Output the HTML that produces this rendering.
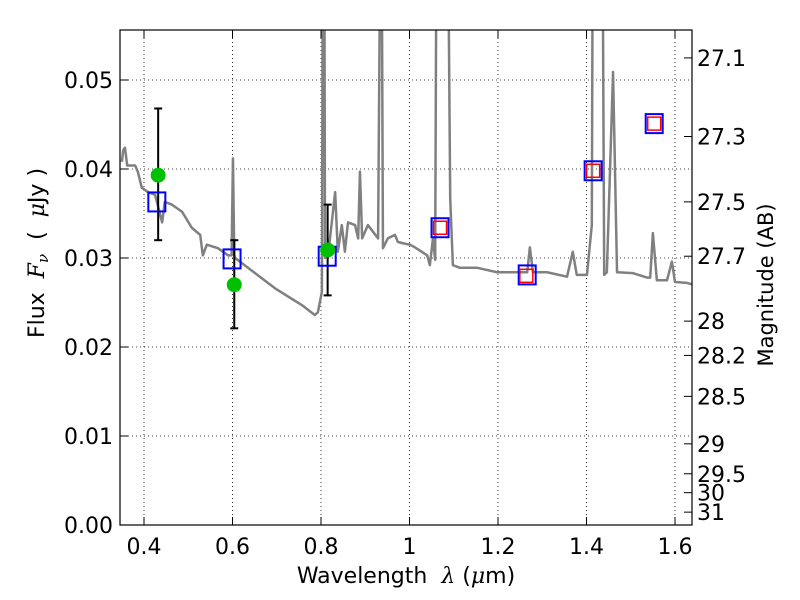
<!DOCTYPE html>
<html><head><meta charset="utf-8"><style>
body{margin:0;background:#fff;}
svg{display:block;font-family:"DejaVu Sans","Liberation Sans",sans-serif;}
</style></head><body>
<svg id="chart" width="800" height="600" xmlns="http://www.w3.org/2000/svg">
<rect width="800" height="600" fill="#fff"/>
<defs><clipPath id="clip"><rect x="120" y="30" width="572" height="495"/></clipPath></defs>
<g id="grid"></g>
<g id="spec" clip-path="url(#clip)"></g>
<g id="marks" clip-path="url(#clip)"></g>
<rect x="120" y="30" width="572" height="495" fill="none" stroke="#000" stroke-width="1.2"/>
<g id="axes"></g>
<text x="406" y="583" font-size="22" text-anchor="middle" style="white-space:pre">Wavelength  <tspan font-family="DejaVu Serif" font-style="italic">λ</tspan> (<tspan font-family="DejaVu Serif" font-style="italic">μ</tspan>m)</text>
<text transform="translate(44,253) rotate(-90)" font-size="22" text-anchor="middle" style="white-space:pre">Flux  <tspan font-family="DejaVu Serif" font-style="italic">F</tspan><tspan font-family="DejaVu Serif" font-style="italic" font-size="15" dy="4">ν</tspan><tspan dy="-4">  (  </tspan><tspan font-family="DejaVu Serif" font-style="italic">μ</tspan>Jy )</text>
<text transform="translate(773,285) rotate(-90)" font-size="21" text-anchor="middle">Magnitude (AB)</text>
</svg>
<script>
const specLam=[0.350,0.353,0.357,0.362,0.380,0.386,0.395,0.409,0.425,0.441,0.447,0.463,0.486,0.508,0.527,0.533,0.542,0.567,0.590,0.598,0.601,0.604,0.606,0.635,0.696,0.757,0.786,0.793,0.802,0.805,0.807,0.809,0.816,0.832,0.838,0.847,0.854,0.861,0.877,0.884,0.888,0.893,0.906,0.929,0.936,0.940,0.951,0.967,0.974,0.990,1.001,1.012,1.040,1.046,1.053,1.058,1.062,1.085,1.092,1.098,1.114,1.153,1.198,1.227,1.266,1.272,1.279,1.311,1.356,1.369,1.378,1.401,1.412,1.415,1.435,1.440,1.446,1.460,1.469,1.505,1.537,1.544,1.550,1.559,1.582,1.593,1.600,1.627,1.641];
const specFlux=[0.0408,0.0421,0.0424,0.0404,0.0404,0.0397,0.0379,0.0374,0.0371,0.0340,0.0363,0.0360,0.0352,0.0334,0.0326,0.0303,0.0315,0.0311,0.0303,0.0303,0.0412,0.0303,0.0300,0.0289,0.0266,0.0247,0.0236,0.0239,0.0262,0.08,0.08,0.0300,0.0303,0.0374,0.0307,0.0337,0.0307,0.0340,0.0337,0.0322,0.0397,0.0322,0.0337,0.0322,0.08,0.0311,0.0322,0.0326,0.0318,0.0316,0.0315,0.0312,0.0303,0.0292,0.0322,0.0298,0.08,0.08,0.0367,0.0292,0.0289,0.0289,0.0284,0.0284,0.0284,0.0312,0.0284,0.0284,0.0279,0.0307,0.0281,0.0281,0.0337,0.08,0.08,0.0281,0.0284,0.0509,0.0284,0.0283,0.0278,0.0278,0.0328,0.0275,0.0275,0.0296,0.0273,0.0272,0.0270];
const modelLam=[0.429,0.599,0.814,1.069,1.266,1.415,1.553];
const modelFlux=[0.0363,0.0299,0.0302,0.0334,0.0281,0.0398,0.0451];
const redLam=[1.069,1.264,1.415,1.553];
const redFlux=[0.0334,0.0280,0.0398,0.0451];
const obsLam=[0.432,0.604,0.815];
const obsFlux=[0.0393,0.0270,0.0309];
const obsLo=[0.0320,0.0221,0.0258];
const obsHi=[0.0468,0.0320,0.0360];
const xTicks=[0.4,0.6,0.8,1.0,1.2,1.4,1.6];
const xLabels=["0.4","0.6","0.8","1","1.2","1.4","1.6"];
const yTicks=[0,0.01,0.02,0.03,0.04,0.05];
const yLabels=["0.00","0.01","0.02","0.03","0.04","0.05"];
const magTicks=[27.1,27.3,27.5,27.7,28,28.2,28.5,29,29.5,30,31];

const NS="http://www.w3.org/2000/svg";
const X=v=>144+(v-0.4)*442.5;
const Y=v=>525-v*8900;
function mk(tag,attrs,parent){const e=document.createElementNS(NS,tag);for(const k in attrs)e.setAttribute(k,attrs[k]);parent.appendChild(e);return e;}
const grid=document.getElementById('grid'),axes=document.getElementById('axes'),spec=document.getElementById('spec'),marks=document.getElementById('marks');
xTicks.forEach((t,i)=>{const x=X(t);
 let g=mk('line',{x1:x,x2:x,y1:30,y2:525,stroke:'#000','stroke-width':0.8,'stroke-dasharray':'1,3'},grid);
 
 mk('line',{x1:x,x2:x,y1:525,y2:517,stroke:'#000'},axes);mk('line',{x1:x,x2:x,y1:30,y2:38,stroke:'#000'},axes);
 const tx=mk('text',{x:x,y:554,'font-size':22,'text-anchor':'middle'},axes);tx.textContent=xLabels[i];
 });
yTicks.forEach((t,i)=>{const y=Y(t);
 let g=mk('line',{x1:120,x2:692,y1:y,y2:y,stroke:'#000','stroke-width':0.8,'stroke-dasharray':'1,3'},grid);
 
 mk('line',{x1:120,x2:128,y1:y,y2:y,stroke:'#000'},axes);
 const tx=mk('text',{x:113,y:y+8,'font-size':22,'text-anchor':'end'},axes);tx.textContent=yLabels[i];
 });
magTicks.forEach(m=>{const y=Y(Math.pow(10,(23.9-m)/2.5));
 mk('line',{x1:684,x2:692,y1:y,y2:y,stroke:'#000'},axes);
 const tx=mk('text',{x:697,y:y+8,'font-size':22},axes);tx.textContent=String(m);
 });
const pl=mk('polyline',{points:specLam.map((l,i)=>X(l)+','+Y(specFlux[i])).join(' '),fill:'none',stroke:'#808080','stroke-width':2.5,'stroke-linejoin':'round'},spec);

obsLam.forEach((l,i)=>{const x=X(l),y1=Y(obsLo[i]),y2=Y(obsHi[i]);
 const e=mk('g',{},marks);
 mk('line',{x1:x,x2:x,y1:y1,y2:y2,stroke:'#000','stroke-width':2},e);
 mk('line',{x1:x-4,x2:x+4,y1:y1,y2:y1,stroke:'#000','stroke-width':2},e);
 mk('line',{x1:x-4,x2:x+4,y1:y2,y2:y2,stroke:'#000','stroke-width':2},e);});
modelLam.forEach((l,i)=>{const r=mk('rect',{x:X(l)-8.5,y:Y(modelFlux[i])-9.5,width:17,height:19,fill:'none',stroke:'#0000ff','stroke-width':2},marks);
 });
redLam.forEach((l,i)=>{const r=mk('rect',{x:X(l)-6.5,y:Y(redFlux[i])-6.5,width:13,height:13,fill:'none',stroke:'#ff0000','stroke-width':1.5},marks);
 });
obsLam.forEach((l,i)=>{const c=mk('circle',{cx:X(l),cy:Y(obsFlux[i]),r:7.5,fill:'#00c000'},marks);
 });
</script>
</body></html>
